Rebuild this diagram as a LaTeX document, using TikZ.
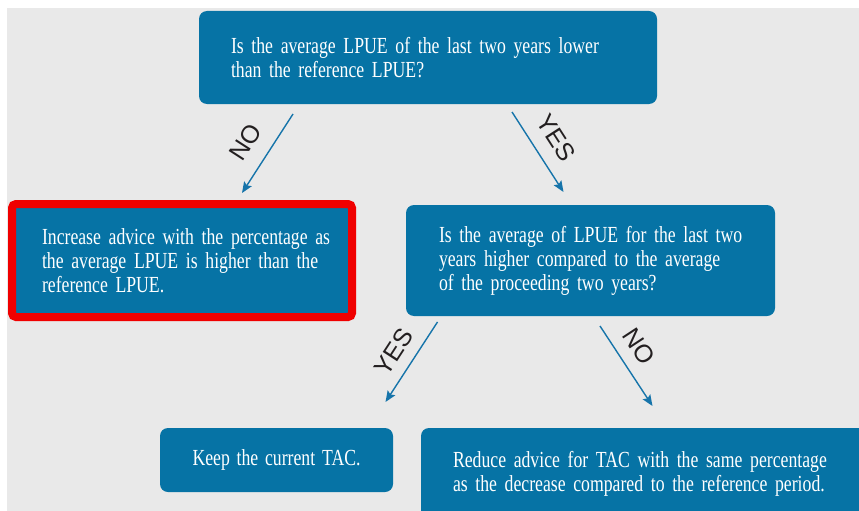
\documentclass[tikz,border=0pt]{standalone}
\usepackage{fontspec}
\setmainfont{Liberation Serif}
\newfontfamily\boxfont[FakeStretch=0.77,WordSpace=0.8]{Liberation Serif}
\newfontfamily\labelfont{Liberation Sans}
\usepackage{tikz}
\usetikzlibrary{arrows.meta,calc}
\definecolor{boxblue}{RGB}{6,115,165}
\definecolor{flowblue}{RGB}{22,116,170}
\definecolor{alertred}{RGB}{240,0,0}
\definecolor{paper}{RGB}{233,233,233}
\definecolor{ink}{RGB}{35,31,32}
\newcommand{\jline}[2]{\makebox[#1][s]{#2}}

\begin{document}
\begin{tikzpicture}[x=1pt,y=-1pt,
    decision/.style={fill=boxblue, rounded corners=8pt, text=white, anchor=north west, outer sep=0pt,
      font=\boxfont\fontsize{23}{24}\selectfont, align=left},
    flow/.style={draw=flowblue, line width=1.4pt, -{Stealth[length=11pt,width=9pt,inset=2pt]}},
    branch/.style={font=\labelfont\fontsize{25}{25}\selectfont, text=ink, sloped, above, inner xsep=0pt}]
    % Page and background
    \useasboundingbox (0,0) rectangle (859,511);
    \clip (0,0) rectangle (859,511);
    \fill[white] (0,0) rectangle (859,511);
    \fill[paper] (7,8) rectangle (859,511);

    % First question
    \node[decision, minimum width=458, minimum height=93, text width=394, inner xsep=32]
        (q1) at (199,11) {Is the average LPUE of the last two years lower\\than the reference LPUE?};

    % Outcome of NO (highlighted)
    \node[decision, draw=alertred, line width=8pt, rounded corners=4pt, minimum width=338,
        minimum height=113, text width=280, inner xsep=30]
        (inc) at (12,204) {\jline{280pt}{Increase advice with the percentage as}\\
        \jline{280pt}{the average LPUE is higher than the}\\reference LPUE.};

    % Second question
    \node[decision, minimum width=369, minimum height=111, text width=303, inner xsep=33]
        (q2) at (406,205) {\jline{284pt}{Is the average of LPUE for the last two}\\
        \jline{284pt}{years higher compared to the average}\\of the proceeding two years?};

    % Final outcomes
    \node[decision, minimum width=233, minimum height=64, align=center]
        (keep) at (160,428) {\jline{168pt}{Keep the current TAC.}};
    \node[decision, text width=396, inner xsep=32, inner ysep=23]
        (cut) at (421,428) {\jline{369pt}{Reduce advice for TAC with the same percentage}\\
        as the decrease compared to the reference period.};

    % Connectors
    \draw[flow] ([xshift=-135pt,yshift=-10pt]q1.south) -- ([xshift=60pt,yshift=11pt]inc.north)
        node[branch, pos=.53, inner ysep=15pt] {NO};
    \draw[flow] ([xshift=84pt,yshift=-8pt]q1.south) -- ([xshift=-27pt,yshift=13pt]q2.north)
        node[branch, pos=.48, inner ysep=14pt] {YES};
    \draw[flow] ([xshift=-153pt,yshift=-6pt]q2.south) -- ([xshift=109pt,yshift=26pt]keep.north)
        node[branch, pos=.51, inner ysep=10.5pt] {YES};
    \draw[flow] ([xshift=9.5pt,yshift=-10pt]q2.south) -- ([xshift=1.5pt,yshift=22pt]cut.north)
        node[branch, pos=.40, inner ysep=11.5pt] {NO};
\end{tikzpicture}
\end{document}
